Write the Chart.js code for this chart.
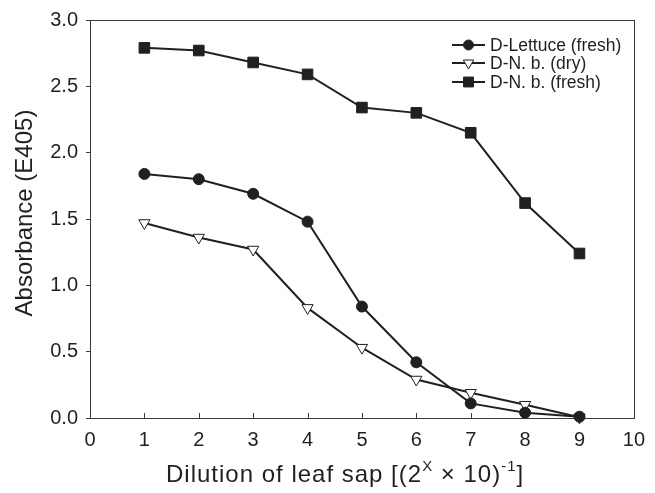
<!DOCTYPE html>
<html>
<head>
<meta charset="utf-8">
<script src="https://cdn.jsdelivr.net/npm/chart.js@4.4.1/dist/chart.umd.min.js"></script>
<style>
    html, body { margin: 0; padding: 0; background: #fff; }
    #wrap { width: 655px; height: 493px; position: relative; }
</style>
</head>
<body>
<div id="wrap"><canvas id="lineChart"></canvas></div>
<script>
// Data
const dilutions = [1, 2, 3, 4, 5, 6, 7, 8, 9];
const lettuceFresh = [1.84, 1.80, 1.69, 1.48, 0.84, 0.42, 0.11, 0.04, 0.01];
const nbDry = [1.47, 1.36, 1.27, 0.83, 0.53, 0.29, 0.19, 0.10, 0.005];
const nbFresh = [2.79, 2.77, 2.68, 2.59, 2.34, 2.30, 2.15, 1.62, 1.24];
const xTicks = [0, 1, 2, 3, 4, 5, 6, 7, 8, 9, 10];
const yTicks = [0, 0.5, 1.0, 1.5, 2.0, 2.5, 3.0];

const ink = '#231f20';
const frame = '#3c3c3c';
const fontFamily = '"Liberation Sans", Arial, sans-serif';

function toPoints(values) {
    return dilutions.map(function(x, i) { return { x: x, y: values[i] }; });
}

const seriesDefs = [
    { label: 'D-Lettuce (fresh)', data: lettuceFresh, style: 'circle', radius: 5.5, fill: ink },
    { label: 'D-N. b. (dry)', data: nbDry, style: 'triangle', radius: 6.5, fill: '#ffffff', rotation: 180 },
    { label: 'D-N. b. (fresh)', data: nbFresh, style: 'rect', radius: 7.5, fill: ink }
];

// Frame, inward x ticks, legend and axis titles
const extrasPlugin = {
    id: 'extras',
    beforeDatasetsDraw: function(chart) {
        const ctx = chart.ctx;
        const xs = chart.scales.x;
        const area = chart.chartArea;
        ctx.save();
        ctx.strokeStyle = frame;
        ctx.lineWidth = 1;
        ctx.strokeRect(Math.round(area.left) + 0.5, Math.round(area.top) + 0.5,
            Math.round(area.right - area.left), Math.round(area.bottom - area.top));
        xTicks.forEach(function(v) {
            if (v === 0 || v === 10) return;
            const px = Math.round(xs.getPixelForValue(v)) + 0.5;
            ctx.beginPath();
            ctx.moveTo(px, Math.round(area.bottom));
            ctx.lineTo(px, Math.round(area.bottom) - 5);
            ctx.stroke();
        });
        ctx.restore();
    },
    afterDraw: function(chart) {
        const ctx = chart.ctx;
        ctx.save();

        // legend
        const rows = [45, 63, 82];
        ctx.font = '17.5px ' + fontFamily;
        ctx.textBaseline = 'middle';
        ctx.textAlign = 'left';
        seriesDefs.forEach(function(s, i) {
            const y = rows[i];
            ctx.strokeStyle = ink;
            ctx.lineWidth = 2;
            ctx.beginPath();
            ctx.moveTo(452, y);
            ctx.lineTo(485, y);
            ctx.stroke();
            ctx.fillStyle = s.fill;
            ctx.lineWidth = 1;
            Chart.helpers.drawPoint(ctx, {
                pointStyle: s.style,
                radius: s.radius - 0.5,
                rotation: s.rotation || 0,
                borderWidth: 1
            }, 468.5, y);
            ctx.fillStyle = ink;
            ctx.fillText(s.label, 490, y + 1);
        });

        // y title
        ctx.save();
        ctx.translate(32, 213);
        ctx.rotate(-Math.PI / 2);
        ctx.font = '24px ' + fontFamily;
        ctx.textAlign = 'center';
        ctx.textBaseline = 'alphabetic';
        ctx.fillText('Absorbance (E405)', 0, 0);
        ctx.restore();

        // x title: Dilution of leaf sap [(2^X × 10)^-1]
        const parts = [
            { t: 'Dilution of leaf sap [(2', sup: false },
            { t: 'X', sup: true },
            { t: ' \u00d7 10)', sup: false },
            { t: '-1', sup: true },
            { t: ']', sup: false }
        ];
        const big = '24px ' + fontFamily;
        const small = '15px ' + fontFamily;
        if ('letterSpacing' in ctx) ctx.letterSpacing = '1px';
        let x = 166;
        const baseY = 482;
        ctx.textAlign = 'left';
        ctx.textBaseline = 'alphabetic';
        ctx.fillStyle = ink;
        parts.forEach(function(p) {
            ctx.font = p.sup ? small : big;
            ctx.fillText(p.t, x, p.sup ? baseY - 11 : baseY);
            x += ctx.measureText(p.t).width;
        });
        ctx.restore();
    }
};

const ctx = document.getElementById('lineChart');
new Chart(ctx, {
    type: 'line',
    data: {
        datasets: seriesDefs.map(function(s) {
            return {
                label: s.label,
                data: toPoints(s.data),
                borderColor: ink,
                borderWidth: 2,
                tension: 0,
                fill: false,
                pointStyle: s.style,
                pointRadius: s.radius,
                pointHoverRadius: s.radius,
                pointRotation: s.rotation || 0,
                pointBackgroundColor: s.fill,
                pointBorderColor: ink,
                pointBorderWidth: 1
            };
        })
    },
    options: {
        responsive: true,
        maintainAspectRatio: false,
        animation: false,
        events: [],
        clip: false,
        layout: { padding: { top: 20, right: 12, left: 0, bottom: 0 } },
        plugins: {
            legend: { display: false },
            tooltip: { enabled: false }
        },
        scales: {
            x: {
                type: 'linear',
                min: 0,
                max: 10,
                afterBuildTicks: function(scale) {
                    scale.ticks = xTicks.map(function(v) { return { value: v }; });
                },
                grid: { drawOnChartArea: false, drawTicks: false },
                border: { display: false },
                ticks: {
                    padding: 10,
                    color: ink,
                    font: { family: fontFamily, size: 20 },
                    maxRotation: 0
                },
                afterFit: function(scale) { scale.height = 75; }
            },
            y: {
                type: 'linear',
                min: 0,
                max: 3,
                afterBuildTicks: function(scale) {
                    scale.ticks = yTicks.map(function(v) { return { value: v }; });
                },
                grid: { drawOnChartArea: false, drawTicks: true, tickLength: 4, color: frame },
                border: { display: false },
                ticks: {
                    padding: 8,
                    color: ink,
                    font: { family: fontFamily, size: 20 },
                    callback: function(v) { return Number(v).toFixed(1); }
                },
                afterFit: function(scale) { scale.width = 90; }
            }
        }
    },
    plugins: [extrasPlugin]
});
</script>
</body>
</html>
